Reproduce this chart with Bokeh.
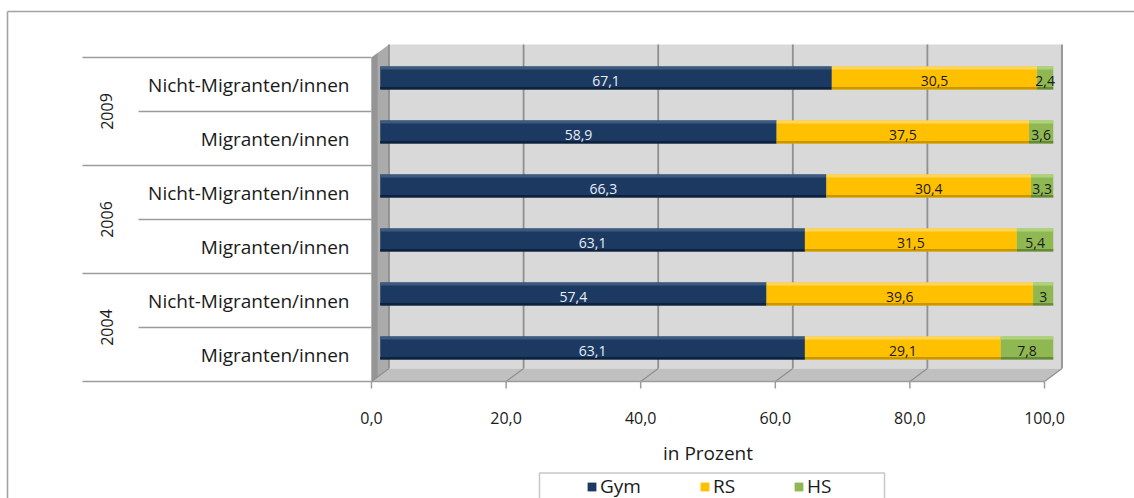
from bokeh.plotting import figure
from bokeh.models import ColumnDataSource, Range1d, Legend, LegendItem
from bokeh.core.properties import value
from bokeh.embed import file_html
from bokeh.resources import INLINE

# ---------------------------------------------------------------- data
years = ["2009", "2006", "2004"]
groups = ["Nicht-Migranten/innen", "Migranten/innen"]
series = ["Gym", "RS", "HS"]
# rows from top to bottom: 2009 Nicht-M., 2009 M., 2006 ..., 2004 ...
gym = [67.1, 58.9, 66.3, 63.1, 57.4, 63.1]
rs = [30.5, 37.5, 30.4, 31.5, 39.6, 29.1]
hs = [2.4, 3.6, 3.3, 5.4, 3.0, 7.8]
ticks = [0, 20, 40, 60, 80, 100]
x_title = "in Prozent"

# ---------------------------------------------------------------- styles
FONT = "Open Sans"
colors = {"Gym": "#1b3961", "RS": "#ffc000", "HS": "#8fb852"}
tops = {"Gym": "#3c5a80", "RS": "#ffd65a", "HS": "#aed27a"}
bottoms = {"Gym": "#0f223d", "RS": "#c99500", "HS": "#66893a"}
label_colors = {"Gym": "#e8edf4", "RS": "#1a1a1a", "HS": "#1a1a1a"}
GRID = "#8f8f8f"
LINE = "#9c9c9c"

# ---------------------------------------------------------------- layout (pixels)
W, H = 1134, 498
X0 = 371.0      # 0 % on the front edge of the floor
PPU = 6.73      # pixels per percent
ROW0 = 84.0     # centre of the first category row
STEP = 54.0     # row pitch
DEPTH_X, DEPTH_Y = 17.5, 13.0
BAR_H = 23.0


def ux(px):
    return (px - X0) / PPU


def uy(py):
    return (py - ROW0) / STEP


dx = DEPTH_X / PPU
dy = DEPTH_Y / STEP
n_rows = len(gym)
front_top, front_bot = -0.5, n_rows - 0.5

p = figure(width=W, height=H, output_backend="svg", toolbar_location=None,
           x_range=Range1d(ux(0), ux(W)), y_range=Range1d(uy(H), uy(0)),
           x_axis_type=None, y_axis_type=None, min_border=0,
           outline_line_color=None, background_fill_color="white",
           border_fill_color="white")
p.grid.grid_line_color = None

# chart area frame (left and top edges)
p.segment(x0=[ux(7), ux(7)], y0=[uy(11), uy(11)], x1=[ux(7), ux(W)],
          y1=[uy(H), uy(11)], line_color="#a3a3a3", line_width=1.6)

# 3-D box: back wall, side wall, floor
p.quad(left=dx, right=100 + dx, top=front_top - dy, bottom=front_bot - dy,
       fill_color="#d9d9d9", line_color=None)
p.patch([0, dx, dx, 0], [front_top, front_top - dy, front_bot - dy, front_bot],
        fill_color="#ababab", line_color=None)
p.patch([0, 0.35 * dx, 0.35 * dx, 0],
        [front_top, front_top - 0.35 * dy, front_bot - 0.35 * dy, front_bot],
        fill_color="#959595", line_color=None)
p.patch([0, 100, 100 + dx, dx], [front_bot, front_bot, front_bot - dy, front_bot - dy],
        fill_color="#c0c0c0", line_color=None)

# gridlines on back wall and floor
grid_x = [t + dx for t in ticks]
p.segment(x0=grid_x, y0=[front_top - dy] * len(ticks), x1=grid_x,
          y1=[front_bot - dy] * len(ticks), line_color=GRID, line_width=1.8)
p.segment(x0=grid_x, y0=[front_bot - dy] * len(ticks), x1=ticks,
          y1=[front_bot] * len(ticks), line_color=GRID, line_width=1.2)

# value axis line and tick marks
p.segment(x0=[0], y0=[front_bot], x1=[100], y1=[front_bot], line_color=LINE, line_width=1.5)
p.segment(x0=ticks, y0=[front_bot] * len(ticks), x1=ticks,
          y1=[front_bot + 7 / STEP] * len(ticks), line_color=LINE, line_width=1.5)

# category separators
long_y = [front_top + 2 * k for k in range(len(years) + 1)]
short_y = [front_top + 1 + 2 * k for k in range(len(years))]
p.segment(x0=[ux(82)] * len(long_y), y0=long_y, x1=[0] * len(long_y), y1=long_y,
          line_color=LINE, line_width=1.5)
p.segment(x0=[ux(138)] * len(short_y), y0=short_y, x1=[0] * len(short_y), y1=short_y,
          line_color=LINE, line_width=1.5)

# category labels
row_labels = [g for _ in years for g in groups]
rows = list(range(n_rows))
p.text(x=[ux(349)] * n_rows, y=rows, text=row_labels, text_align="right",
       text_baseline="middle", text_font=value(FONT), text_font_size="19px",
       text_color="#1a1a1a")
p.text(x=[ux(106)] * len(years), y=[2 * k + 0.5 for k in range(len(years))], text=years,
       angle=1.5708, text_align="center", text_baseline="middle",
       text_font=value(FONT), text_font_size="16px", text_color="#1a1a1a")

# stacked bars
values = {"Gym": gym, "RS": rs, "HS": hs}
bar_y = [r - dy / 2 for r in rows]
h = BAR_H / STEP
strip = 3 / STEP
renderers = {}
start = [dx / 2] * n_rows
for name in series:
    vals = values[name]
    end = [s + v for s, v in zip(start, vals)]
    src = ColumnDataSource(dict(y=bar_y, left=start, right=end,
                                ytop=[b - h / 2 + strip / 2 for b in bar_y],
                                ybot=[b + h / 2 - strip / 2 + 0.3 / STEP for b in bar_y]))
    renderers[name] = p.hbar(y="y", left="left", right="right", height=h, source=src,
                             fill_color=colors[name], line_color=None)
    p.hbar(y="ytop", left="left", right="right", height=strip, source=src,
           fill_color=tops[name], line_color=None)
    p.hbar(y="ybot", left="left", right="right", height=strip * 0.8, source=src,
           fill_color=bottoms[name], line_color=None)
    labels = [f"{v:g}".replace(".", ",") for v in vals]
    p.text(x=[(s + e) / 2 for s, e in zip(start, end)], y=[b + 3 / STEP for b in bar_y],
           text=labels, text_align="center", text_baseline="middle",
           text_font=value(FONT), text_font_size="14px", text_color=label_colors[name])
    start = end

# tick labels and axis title
p.text(x=ticks, y=[uy(417)] * len(ticks), text=[f"{t:.1f}".replace(".", ",") for t in ticks],
       text_align="center", text_baseline="middle", text_font=value(FONT),
       text_font_size="16px", text_color="#1a1a1a")
p.text(x=[50], y=[uy(452)], text=[x_title], text_align="center", text_baseline="middle",
       text_font=value(FONT), text_font_size="19px", text_color="#1a1a1a")

# legend box and legend
p.quad(left=[ux(539)], right=[ux(884)], top=[uy(472.5)], bottom=[uy(H + 5)],
       fill_color="white", line_color="#c8c8c8", line_width=1.5)
legend = Legend(items=[LegendItem(label=s, renderers=[renderers[s]]) for s in series],
                orientation="horizontal", location=(586, -1),
                label_text_font=FONT, label_text_font_size="19px",
                label_text_color="#1a1a1a", label_height=18, label_standoff=3,
                glyph_width=11, glyph_height=11, spacing=58, padding=4,
                margin=0, border_line_color=None, background_fill_alpha=0.0)
p.add_layout(legend)

open("out.html", "w").write(file_html(p, INLINE))
